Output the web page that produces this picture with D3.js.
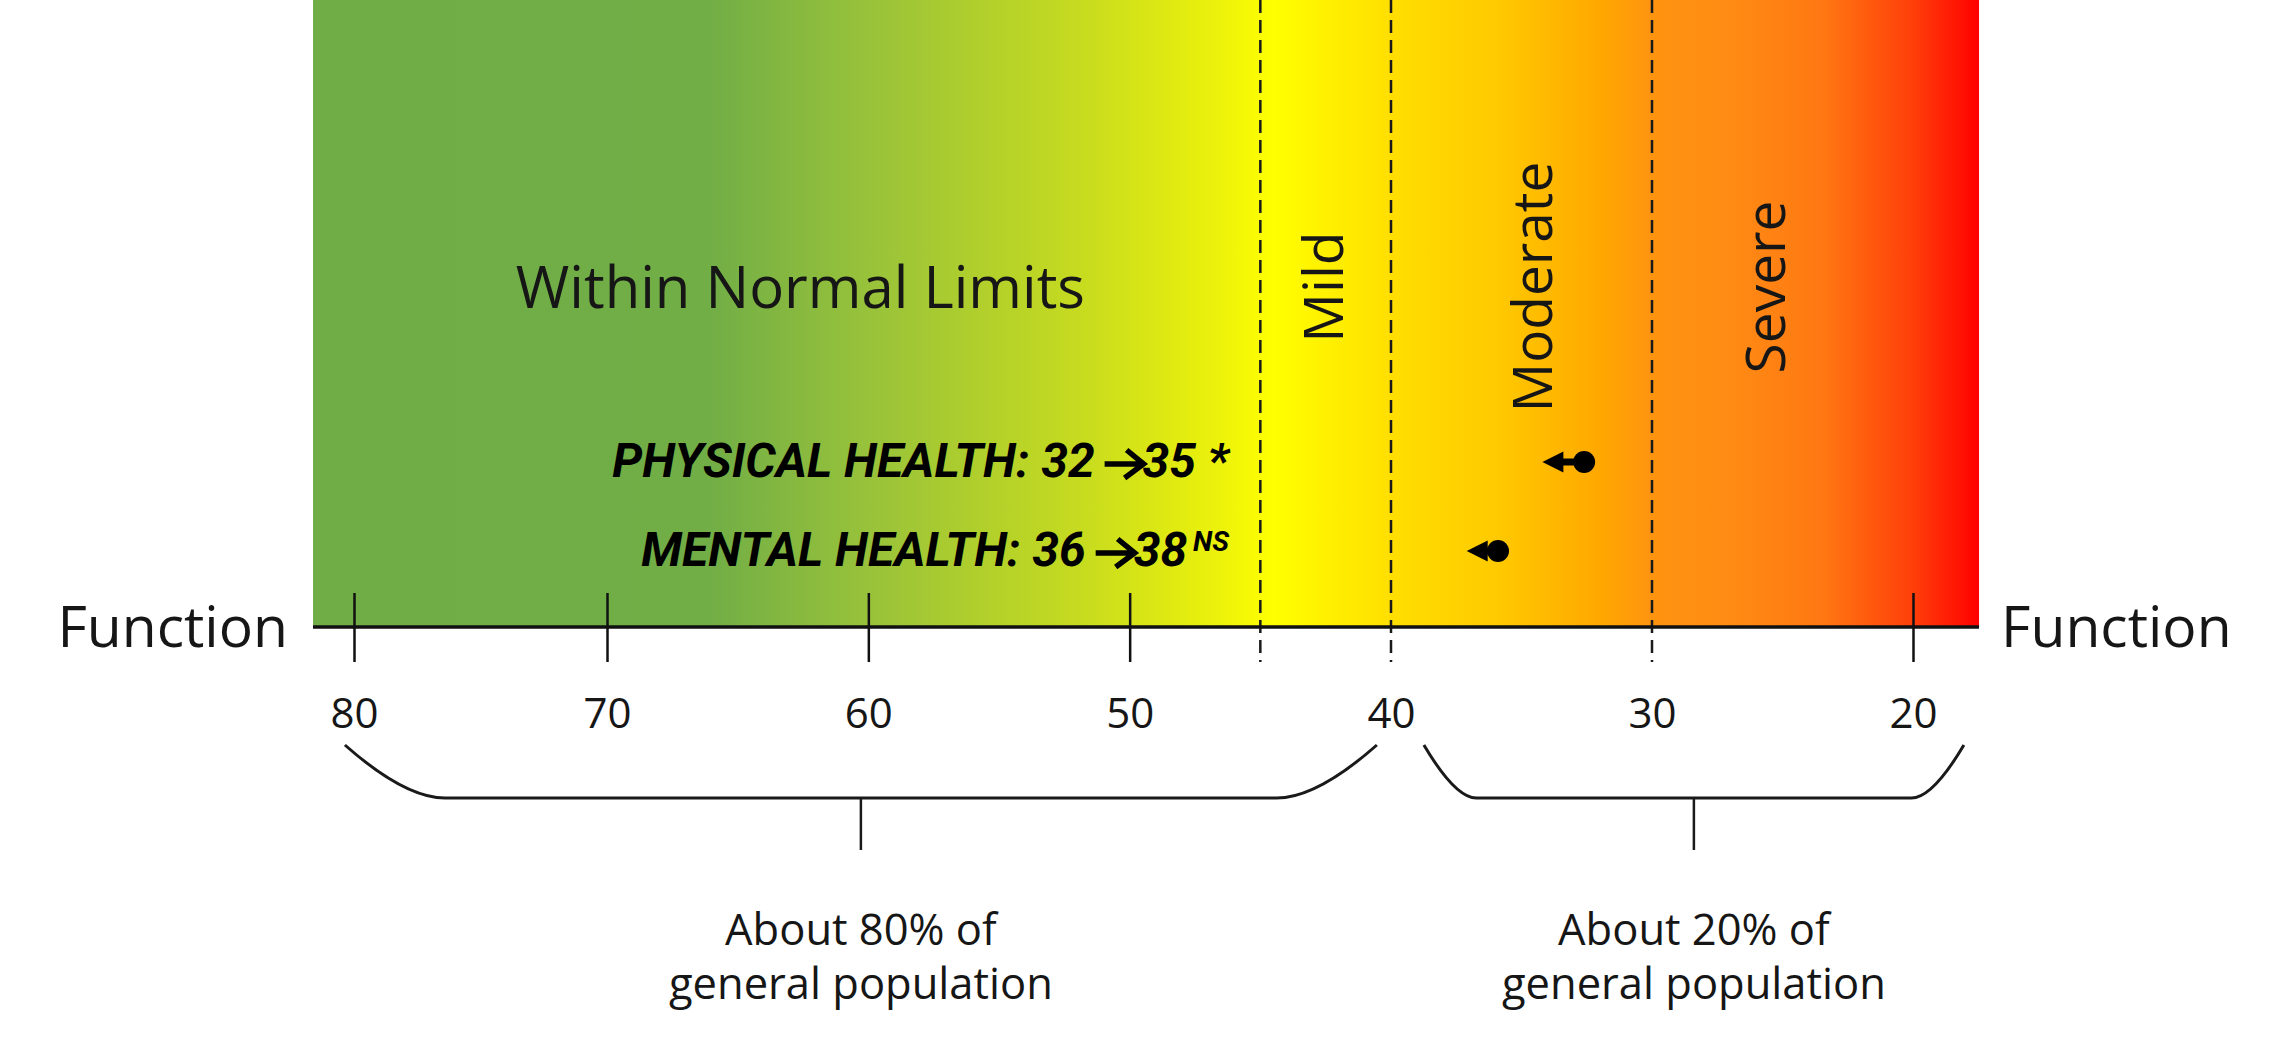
<!DOCTYPE html>
<html><head><meta charset="utf-8">
<script src="https://cdn.jsdelivr.net/npm/d3@7"></script>
<style>html,body{margin:0;padding:0;background:#fff;}svg{display:block}</style>
</head><body>
<svg id="c" width="2290" height="1039"></svg>
<script>
// ---- data ----
const tickValues = [80, 70, 60, 50, 40, 30, 20];
const cutoffs = [45, 40, 30];
const bandExtent = [81.62, 17.47];
const gradientScores = [81.62, 66, 60, 52, 46.5, 44.5, 40, 36, 32, 30, 27, 23.5, 20, 17.47];
const gradientColors = ["#70ad47", "#72ae46", "#98c23a", "#c6db20", "#edf20a", "#ffff00", "#ffdf00", "#ffca00", "#ffa800", "#ff9410", "#ff8b14", "#ff7812", "#ff3f0a", "#ff0000"];
const severityLabels = ["Within Normal Limits", "Mild", "Moderate", "Severe"];
const severityScores = [62.6, 42.6, 34.6, 25.65];
const measures = ["PHYSICAL HEALTH", "MENTAL HEALTH"];
const beforeScores = [32, 36];
const afterScores = [35, 38];
const significance = ["*", "NS"];
const markerFrom = [32.6, 35.9];
const markerTo = [34.2, 37.1];
const bracketRanges = [[80.36, 40.54], [38.74, 18.05]];
const bracketLines1 = ["About 80% of", "About 20% of"];
const bracketLines2 = ["general population", "general population"];
const sideLabel = "Function";

// ---- drawing ----
const svg = d3.select("#c");
const FONT = "'Open Sans', sans-serif";
const INK = "#161616";
const x = d3.scaleLinear().domain([80, 70, 40, 20]).range([354, 607, 1391, 1913]);
const axisY = 627;
const xL = x(bandExtent[0]), xR = x(bandExtent[1]);
const span = xR - xL;

const defs = svg.append("defs");
const grad = defs.append("linearGradient").attr("id", "band")
  .attr("gradientUnits", "userSpaceOnUse")
  .attr("x1", xL).attr("x2", xR).attr("y1", 0).attr("y2", 0);
grad.selectAll("stop").data(d3.zip(gradientScores, gradientColors)).join("stop")
  .attr("offset", d => (x(d[0]) - xL) / span)
  .attr("stop-color", d => d[1]);

const shadow = defs.append("filter").attr("id", "sh").attr("x", "-5%").attr("y", "-200%").attr("width", "110%").attr("height", "500%");
shadow.append("feGaussianBlur").attr("stdDeviation", 3);

svg.append("rect").attr("x", xL).attr("y", 0).attr("width", span).attr("height", axisY).attr("fill", "url(#band)");

// severity labels
svg.append("text").attr("x", x(severityScores[0])).attr("y", 308)
  .attr("text-anchor", "middle").attr("font-family", FONT).attr("font-size", 58).attr("fill", INK)
  .text(severityLabels[0]);
svg.selectAll("text.sev").data(d3.zip(severityLabels, severityScores).slice(1)).join("text")
  .attr("class", "sev")
  .attr("transform", d => `translate(${x(d[1]) + 0.357 * 55},287) rotate(-90)`)
  .attr("text-anchor", "middle").attr("font-family", FONT).attr("font-size", 55).attr("fill", INK)
  .text(d => d[0]);

// dashed cutoffs
svg.selectAll("line.cut").data(cutoffs).join("line").attr("class", "cut")
  .attr("x1", d => x(d)).attr("x2", d => x(d)).attr("y1", 0).attr("y2", 662)
  .attr("stroke", "#1a1a1a").attr("stroke-width", 2.5).attr("stroke-dasharray", "13,7");

// axis baseline with faint shadow
svg.append("line").attr("x1", xL).attr("x2", xR).attr("y1", axisY + 4).attr("y2", axisY + 4)
  .attr("stroke", "#c9d3e0").attr("stroke-width", 4).attr("filter", "url(#sh)").attr("opacity", 0.6);
svg.append("line").attr("x1", xL).attr("x2", xR).attr("y1", axisY).attr("y2", axisY)
  .attr("stroke", "#111").attr("stroke-width", 3.5);

const axisG = svg.append("g").attr("transform", `translate(0,${axisY})`)
  .call(d3.axisBottom(x).tickValues(tickValues).tickFormat(d3.format("d")).tickSizeOuter(0));
axisG.attr("font-family", FONT).attr("font-size", 42);
axisG.select(".domain").remove();
axisG.selectAll(".tick line").attr("y1", -34).attr("y2", 35).attr("stroke", "#111").attr("stroke-width", 2.5)
  .attr("display", d => cutoffs.includes(d) ? "none" : null);
axisG.selectAll(".tick text").attr("y", 101).attr("dy", 0).attr("fill", INK);

// side labels
svg.append("text").attr("x", xL - 25).attr("y", 647).attr("text-anchor", "end")
  .attr("font-family", FONT).attr("font-size", 57).attr("fill", INK).text(sideLabel);
svg.append("text").attr("x", xR + 22).attr("y", 647).attr("text-anchor", "start")
  .attr("font-family", FONT).attr("font-size", 57).attr("fill", INK).text(sideLabel);

// brackets
const bracketG = svg.selectAll("g.br").data(d3.range(bracketRanges.length)).join("g").attr("class", "br");
bracketG.append("path")
  .attr("d", i => {
    const a = x(bracketRanges[i][0]), b = x(bracketRanges[i][1]);
    const w = 0.097 * (b - a), t = 745, bt = 798;
    return `M${a},${t} Q${a + 0.6 * w},${bt} ${a + w},${bt} L${b - w},${bt} Q${b - 0.6 * w},${bt} ${b},${t}`;
  })
  .attr("fill", "none").attr("stroke", "#1a1a1a").attr("stroke-width", 3);
bracketG.append("line")
  .attr("x1", i => (x(bracketRanges[i][0]) + x(bracketRanges[i][1])) / 2)
  .attr("x2", i => (x(bracketRanges[i][0]) + x(bracketRanges[i][1])) / 2)
  .attr("y1", 798).attr("y2", 850).attr("stroke", "#1a1a1a").attr("stroke-width", 2.5);
bracketG.append("text")
  .attr("x", i => (x(bracketRanges[i][0]) + x(bracketRanges[i][1])) / 2).attr("y", 945)
  .attr("text-anchor", "middle").attr("font-family", FONT).attr("font-size", 43.5).attr("fill", INK)
  .text(i => bracketLines1[i]);
bracketG.append("text")
  .attr("x", i => (x(bracketRanges[i][0]) + x(bracketRanges[i][1])) / 2).attr("y", 999)
  .attr("text-anchor", "middle").attr("font-family", FONT).attr("font-size", 43.5).attr("fill", INK)
  .text(i => bracketLines2[i]);

// measures
const yRow = d3.scalePoint().domain(measures).range([462, 551]);
const TFONT = "Roboto, sans-serif";
const textRight = 1229;
measures.forEach((m, i) => {
  const base = yRow(m) + 15;
  const g = svg.append("g").attr("font-family", TFONT).attr("font-weight", 700)
    .attr("font-style", "italic").attr("font-size", 48).attr("fill", "#000");
  const tail = g.append("text").attr("x", textRight).attr("y", base).attr("text-anchor", "end");
  tail.append("tspan").text(`${afterScores[i]}`);
  if (significance[i] === "*") {
    tail.append("tspan").text("\u00a0*");
  } else {
    tail.append("tspan").attr("dx", 6).attr("dy", -15).attr("font-size", 28).text(significance[i]);
  }
  const tailLeft = tail.node().getBBox().x;
  const tipX = tailLeft + 1, startX = tipX - 39, midY = base - 13;
  g.append("path")
    .attr("d", `M${startX},${midY} L${tipX - 3},${midY} M${tipX - 17},${midY - 14} L${tipX},${midY} L${tipX - 19},${midY + 14}`)
    .attr("fill", "none").attr("stroke", "#000").attr("stroke-width", 5.5)
    .attr("stroke-linejoin", "miter").attr("stroke-linecap", "butt");
  g.append("text").attr("x", startX - 10).attr("y", base).attr("text-anchor", "end")
    .text(`${m}: ${beforeScores[i]}`);

  const y = yRow(m);
  const tip = x(markerTo[i]), from = x(markerFrom[i]);
  svg.append("line").attr("x1", tip + 18).attr("x2", from).attr("y1", y).attr("y2", y)
    .attr("stroke", "#000").attr("stroke-width", 7);
  svg.append("path").attr("d", `M${tip},${y} L${tip + 21},${y - 10.5} L${tip + 21},${y + 10.5} Z`).attr("fill", "#000");
  svg.append("circle").attr("cx", from).attr("cy", y).attr("r", 11).attr("fill", "#000");
});
</script>
</body></html>
